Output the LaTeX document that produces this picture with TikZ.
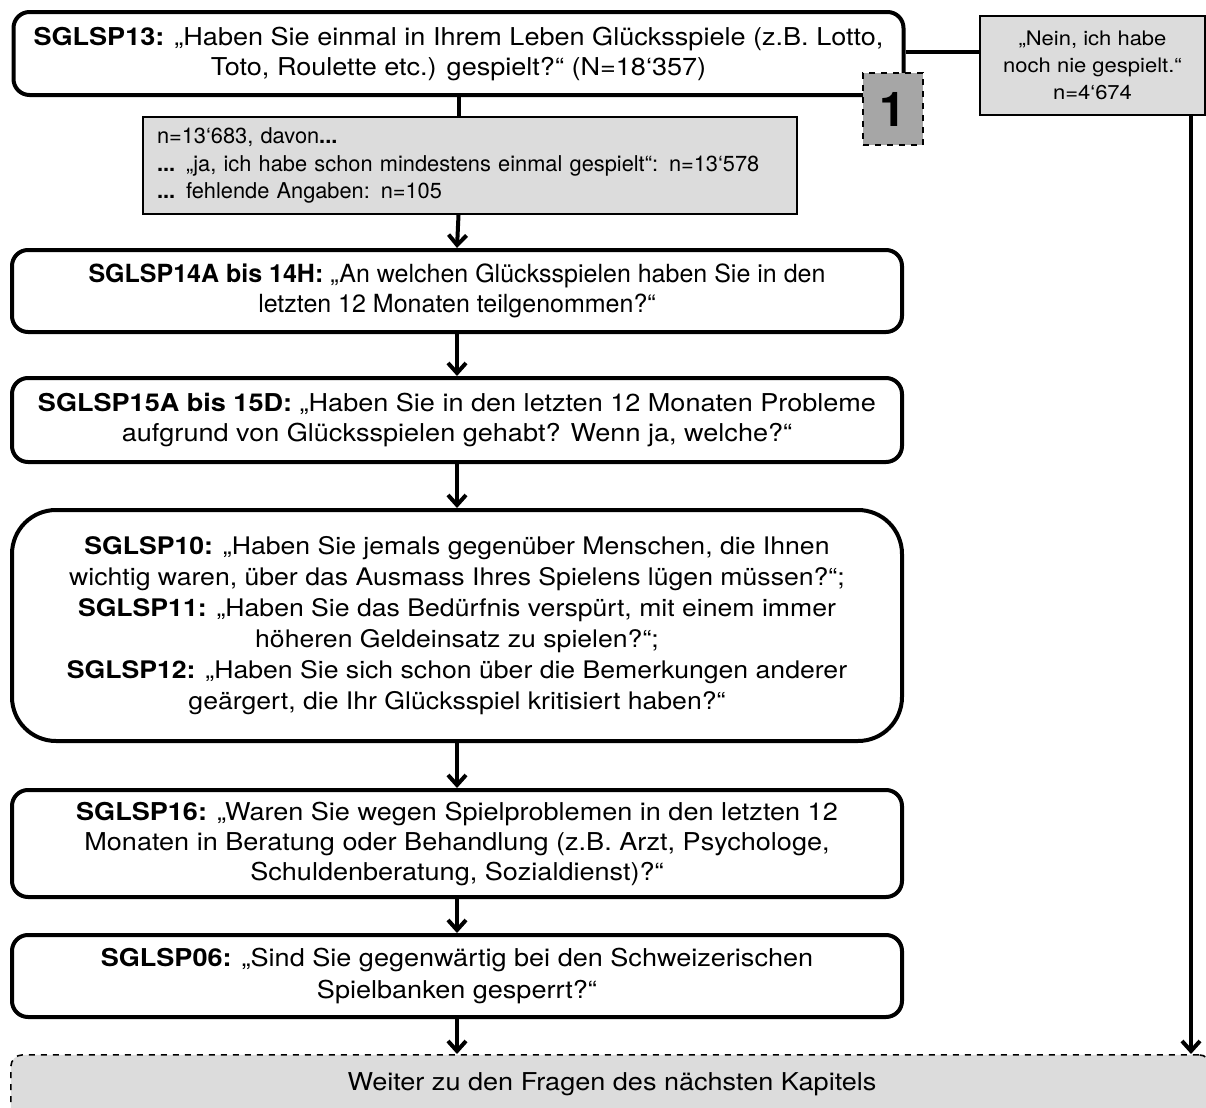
\documentclass[tikz,border=0pt]{standalone}
\usepackage{fontspec}
\setmainfont{TeX Gyre Heros}
\newfontfamily\widefont{TeX Gyre Heros}[FakeStretch=1.1]
\usepackage{tikz}
\usetikzlibrary{arrows.meta}
\definecolor{boxgrey}{HTML}{DCDCDC}
\definecolor{markgrey}{HTML}{A6A6A6}

\begin{document}
\begin{tikzpicture}[x=0.5pt, y=-0.5pt,
        question/.style={draw, line width=2pt, rounded corners=8pt, align=center, inner sep=0pt,
            minimum width=445pt, font=\widefont\fontsize{12.3}{15}\selectfont},
        infobox/.style={draw, line width=1pt, fill=boxgrey, inner sep=0pt, font=\fontsize{10.9}{13.8}\selectfont},
        flow/.style={line width=2pt, -{Straight Barb[length=5pt, width=9pt, line width=2pt]}}]
        \useasboundingbox (0,0) rectangle (1206,1108);
        \node [question, minimum height=41.5pt] (q13) at (458.5, 53.5)
            {\textbf{SGLSP13:} „Haben Sie einmal in Ihrem Leben Glücksspiele (z.B. Lotto,\\
             Toto, Roulette etc.) gespielt?“ (N=18‘357)};
        \node [infobox, minimum width=327pt, minimum height=48.5pt, align=left, text width=313pt] (info) at (470, 165.5)
            {n=13‘683, davon\textbf{...}\\
             \textbf{...} „ja, ich habe schon mindestens einmal gespielt“: n=13‘578\\
             \textbf{...} fehlende Angaben: n=105};
        \node [question, minimum height=41pt, font=\fontsize{12.5}{15}\selectfont] (q14) at (457, 291)
            {\textbf{SGLSP14A bis 14H:} „An welchen Glücksspielen haben Sie in den\\
             letzten 12 Monaten teilgenommen?“};
        \node [question, minimum height=42pt] (q15) at (457, 420)
            {\textbf{SGLSP15A bis 15D:} „Haben Sie in den letzten 12 Monaten Probleme\\
             aufgrund von Glücksspielen gehabt? Wenn ja, welche?“};
        \node [question, rounded corners=22pt, minimum height=115.5pt, font=\widefont\fontsize{12.1}{15.5}\selectfont] (q10) at (457, 625.5)
            {\textbf{SGLSP10:} „Haben Sie jemals gegenüber Menschen, die Ihnen\\
             wichtig waren, über das Ausmass Ihres Spielens lügen müssen?“;\\
             \textbf{SGLSP11:} „Haben Sie das Bedürfnis verspürt, mit einem immer\\
             höheren Geldeinsatz zu spielen?“;\\
             \textbf{SGLSP12:} „Haben Sie sich schon über die Bemerkungen anderer\\
             geärgert, die Ihr Glücksspiel kritisiert haben?“};
        \node [question, minimum height=53.5pt] (q16) at (457, 843.5)
            {\textbf{SGLSP16:} „Waren Sie wegen Spielproblemen in den letzten 12\\
             Monaten in Beratung oder Behandlung (z.B. Arzt, Psychologe,\\
             Schuldenberatung, Sozialdienst)?“};
        \node [question, minimum height=41pt, font=\widefont\fontsize{12.3}{16}\selectfont] (q06) at (457, 976)
            {\textbf{SGLSP06:} „Sind Sie gegenwärtig bei den Schweizerischen\\
             Spielbanken gesperrt?“};
        \node [infobox, align=center, minimum width=112.5pt, minimum height=49.5pt, font=\widefont\fontsize{10}{13.5}\selectfont] (nein) at (1092.5, 65.5)
            {„Nein, ich habe\\ noch nie gespielt.“\\ n=4‘674};
        \node [draw, dashed, line width=1pt, fill=markgrey, minimum width=30pt, minimum height=36pt,
            font=\fontsize{24}{24}\bfseries] (one) at (893, 109) {1};
        \node [draw, dashed, line width=0.8pt, fill=boxgrey, rounded corners=6pt, minimum width=600pt,
            minimum height=34pt, anchor=north west] (next) at (10, 1054) {};
        \node [font=\widefont\fontsize{12.3}{15}\selectfont] (nexttext) at (612, 1084) {Weiter zu den Fragen des nächsten Kapitels};
        \draw [line width=2pt] (q13.south) -- (q13.south |- info.north);
        \draw [flow] (q13.south |- info.south) -- (q14.north);
        \draw [flow] (q14) -- (q15);
        \draw [flow] (q15) -- (q10);
        \draw [flow] (q10) -- (q16);
        \draw [flow] (q16) -- (q06);
        \draw [flow] (q06.south) -- (q06.south |- next.north);
        \draw [line width=2pt] (q13.east |- 0,52) -- (nein.west |- 0,52);
        \draw [flow] ([xshift=-7.5pt]nein.south east) -- ([xshift=-7.5pt]nein.south east |- next.north);
    \end{tikzpicture}
\end{document}
